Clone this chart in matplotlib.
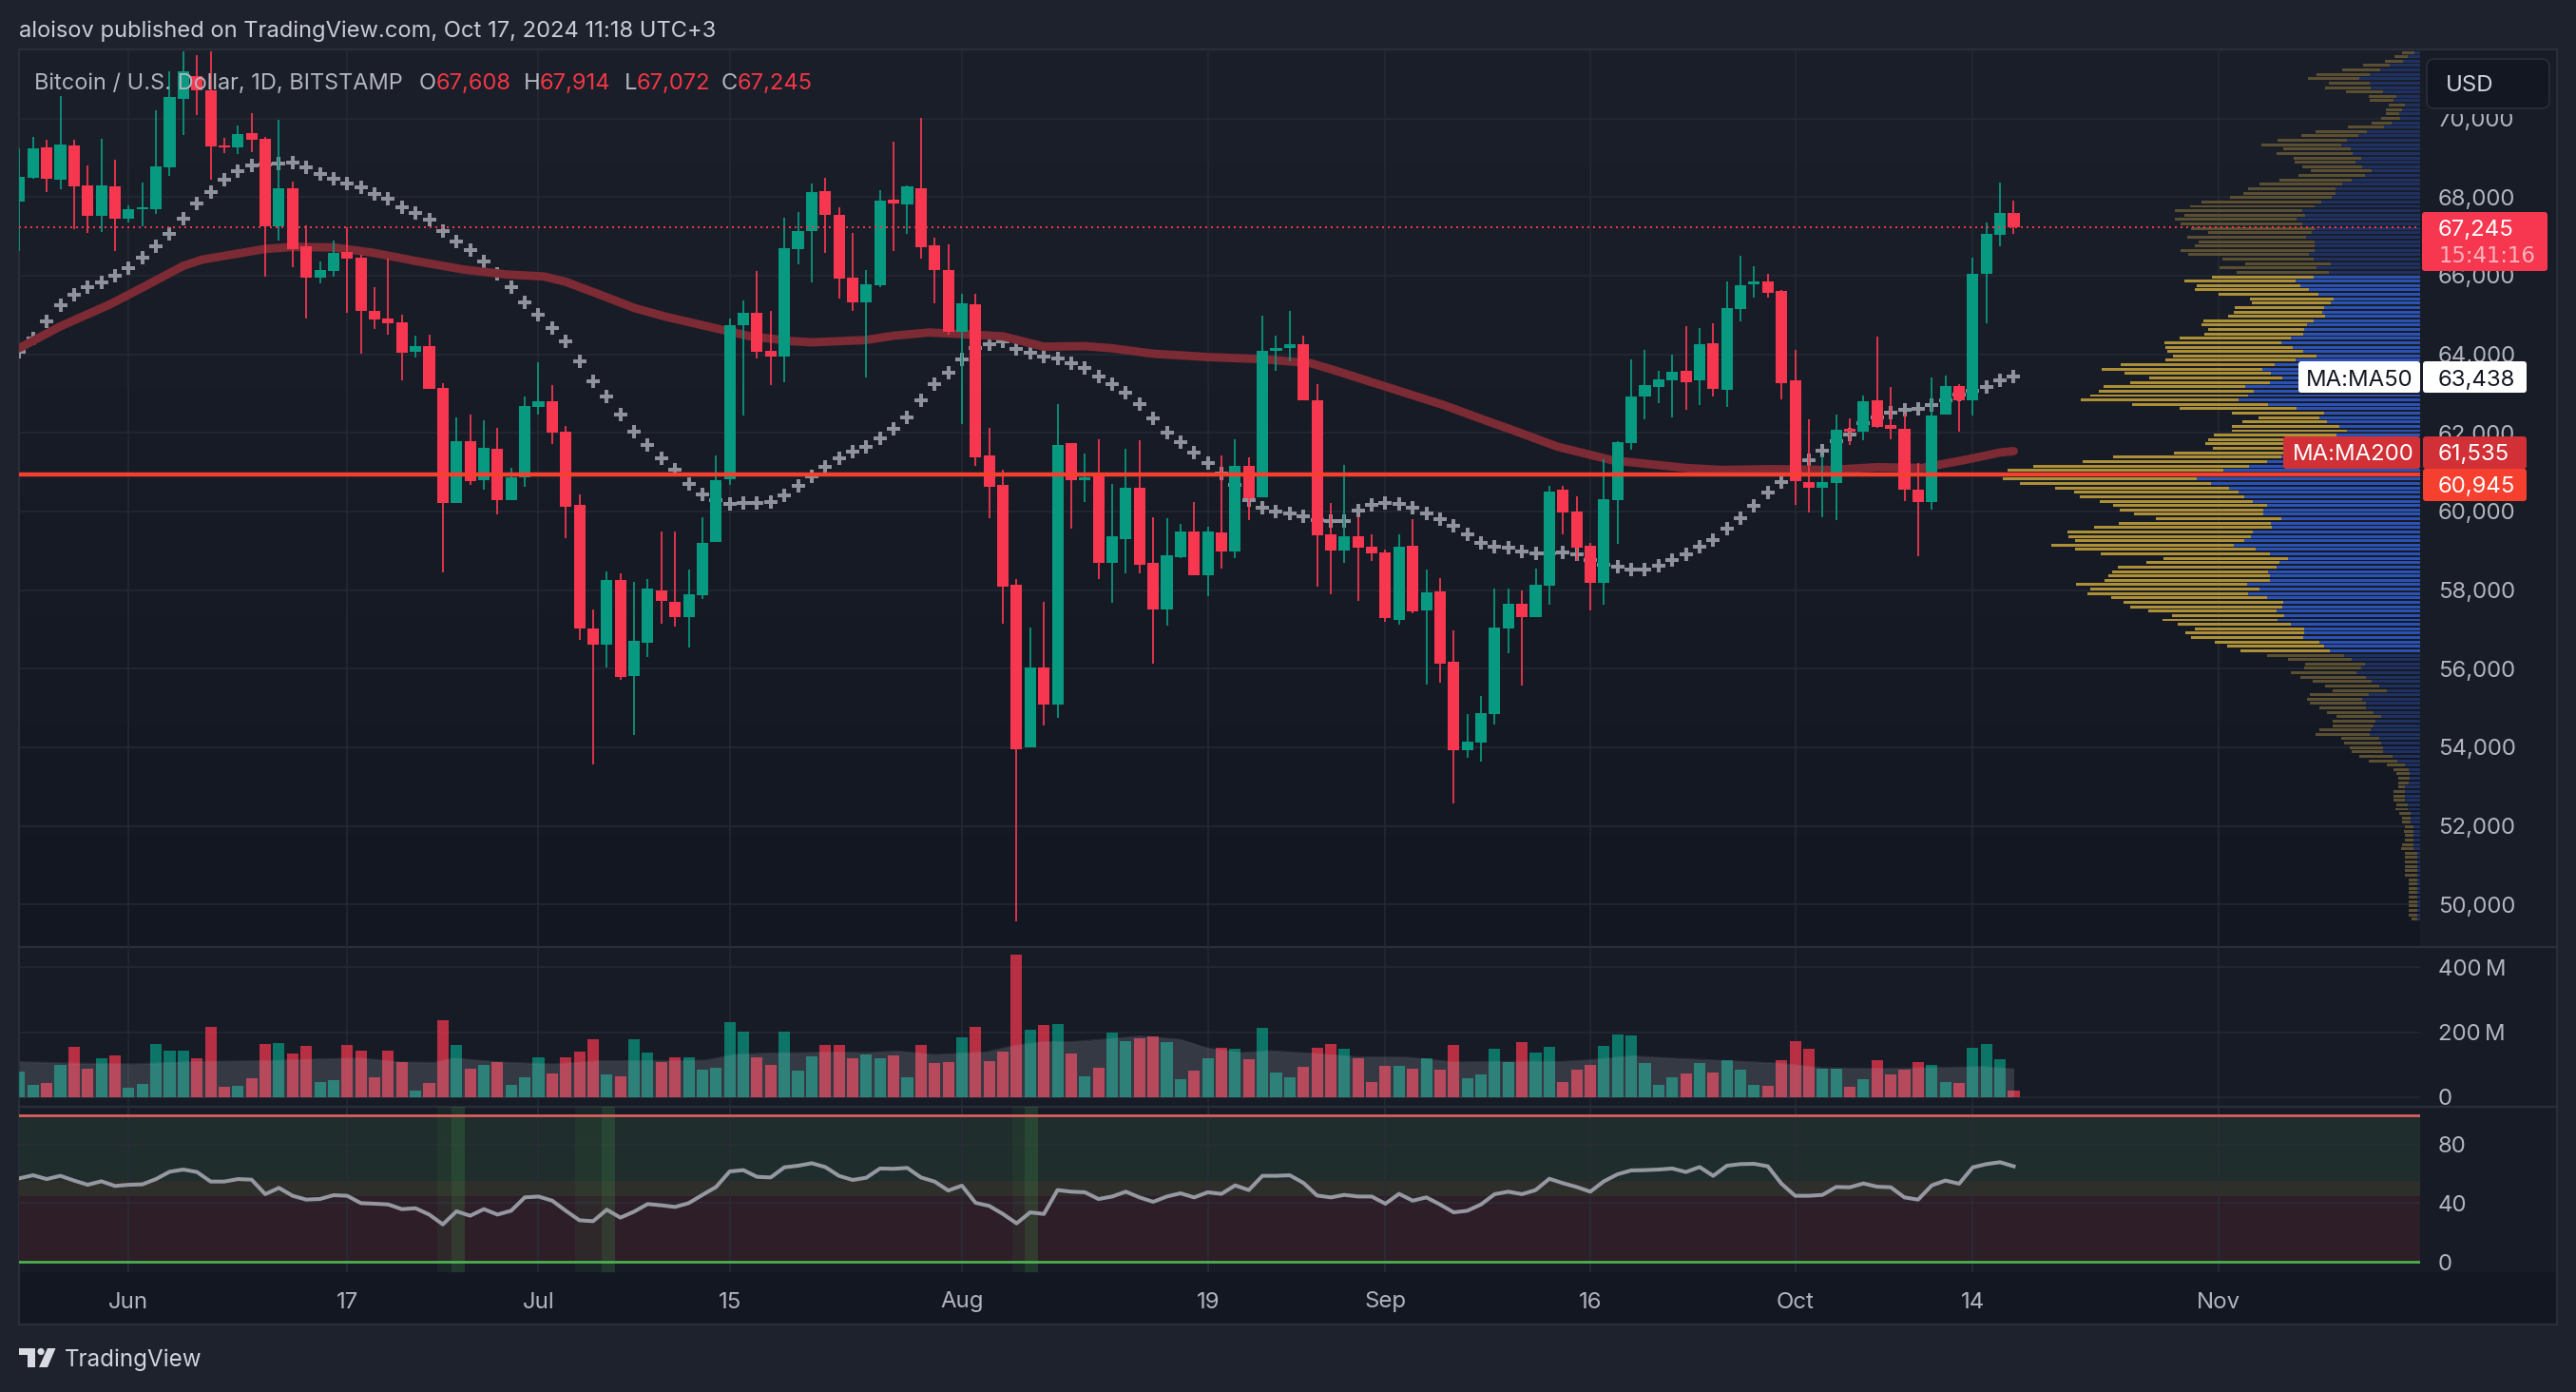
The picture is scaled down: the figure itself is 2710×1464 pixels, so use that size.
import numpy as np
import matplotlib
matplotlib.use("Agg")
import matplotlib.pyplot as plt
from matplotlib.patches import Rectangle, FancyBboxPatch, Polygon, Circle

plt.rcParams['font.family'] = ['Inter', 'DejaVu Sans']

# ---------- data (daily candles, index 0 = 24 May 2024) ----------
opens = [67877,68493,69268,68431,69318,68308,67532,68283,67446,67692,67692,68751,70500,71080,70722,69318,69268,69626,69478,67261,
         68222,66744,65956,66128,66596,66461,65106,64921,64823,64060,64220,63136,60217,61781,60808,61584,60278,60870,62655,62815,
         62027,60168,57027,56621,58259,55820,56670,58000,57694,57305,57861,59222,60819,64736,65055,64083,63930,66680,67139,68153,
         67542,65944,65333,65750,67944,67806,68236,66764,66139,64583,65278,61416,60666,58124,54000,56041,55097,61736,60805,60930,
         58680,59305,60596,58680,57513,58847,59486,58388,59458,58972,61152,60360,64083,64153,64250,62819,59429,59014,59370,59103,
         58955,57238,59123,57485,57968,56173,53933,54120,54850,57021,57653,57317,58106,60553,59991,59133,58185,60287,61737,62921,
         63158,63336,63573,63336,64273,63099,65151,65773,65862,65605,63336,60741,60613,60731,62103,62034,62823,62191,62103,60563,
         60238,62477,63188,62823,66039,67040,67608]
closes = [68505,69231,68456,69342,68283,67532,68308,67446,67692,67741,68776,70537,71200,70722,69280,69268,69600,69465,67261,68222,
          66682,65956,66140,66584,66436,65106,64897,64798,64035,64220,63111,60217,61781,60771,61609,60278,60870,62680,62815,62003,
          60118,57027,56621,58259,55784,56707,58037,57717,57305,57888,59194,60791,64750,65055,64069,63944,66694,67139,68139,67542,
          65917,65333,65792,67903,67847,68278,66736,66139,64583,65291,61389,60638,58097,53957,56041,55097,61680,60805,60860,58680,
          59360,60610,58652,57513,58874,59486,58388,59486,58972,61152,60333,64083,64153,64250,62819,59388,59014,59370,59083,58935,
          57297,59113,57455,57939,56123,53933,54140,54870,57041,57653,57317,58136,60514,59971,59083,58185,60307,61757,62921,63208,
          63356,63553,63287,64254,63119,65171,65763,65862,65566,63257,60771,60613,60741,62073,62034,62803,62162,62103,60553,60238,
          62438,63188,62823,66059,67056,67608,67245]
highs = [69231,69539,69465,70562,69465,68813,69490,68960,67790,68369,70217,71200,71700,71608,71700,69515,69823,70130,69527,69970,
         68406,67273,66374,66892,67236,66522,65697,66424,64995,64478,64490,63271,62384,62458,62310,62138,61104,62914,63788,63209,
         62187,60426,57507,58468,58431,58210,58283,59478,59499,58527,59847,61416,64916,65375,66111,65097,67472,67611,68347,68486,
         67736,67097,66139,68180,69417,68305,70014,66972,66805,65541,65528,62138,61055,58277,57041,57694,62722,61736,61472,61847,
         60694,61583,61805,59847,59819,59694,60250,59611,61416,61833,61389,64972,64486,65097,64486,63236,60218,61175,59873,59409,
         59034,59409,59804,58521,58294,56962,54840,55304,58047,58028,57978,58541,60662,60642,60386,59211,61323,61777,63869,64106,
         63573,63987,64707,64658,64786,65842,66503,66237,66059,65625,64106,62339,61432,62458,62369,62941,64441,63158,62487,61224,
         63405,63454,63247,66464,67350,68375,67914]
lows = [66620,68468,68123,68197,67175,67076,67101,66621,67360,67261,67581,68530,69590,70093,68431,69120,69096,69133,65980,66904,
        66227,64921,65808,65980,65044,64022,64650,64503,63345,63912,63111,58456,60217,60672,60549,59921,60278,60623,62458,61720,
        59330,56732,53567,56030,55722,54306,56301,57138,57069,56541,57777,59222,60666,62444,63889,63222,63277,66278,65819,66569,
        65430,65111,63416,65708,66625,67069,66444,65305,64500,62222,61152,59819,57138,49568,53985,54541,54735,59555,60250,58291,
        57666,58430,58430,56124,57097,58805,58388,57833,58555,58805,59777,60360,63569,63833,62819,58083,57899,58698,57722,58738,
        57199,57120,57416,55600,55640,52561,53735,53636,54584,56390,55561,57317,57623,59429,58738,57475,57633,59182,61580,62339,
        62764,62389,62596,62704,62922,62665,64836,65438,65447,62862,60169,59971,59863,59784,61698,61816,62132,61836,60257,58857,
        60050,62468,62024,62438,64786,66750,67072]

ma50 = [64071,64404,64847,65254,65525,65697,65833,66005,66190,66461,66744,67052,67446,67840,68123,68443,68665,68800,68837,68862,
        68874,68751,68579,68456,68345,68259,68086,67963,67741,67606,67434,67138,66867,66645,66362,66054,65697,65328,64995,64675,
        64318,63825,63308,62914,62458,62040,61695,61362,61055,60694,60444,60300,60194,60208,60208,60236,60416,60652,60888,61124,
        61347,61527,61652,61861,62097,62402,62819,63250,63541,63875,64152,64264,64333,64125,64027,63930,63889,63764,63653,63444,
        63250,63027,62736,62375,62014,61764,61500,61236,60958,60680,60291,60097,60000,59958,59888,59777,59755,59755,60020,60159,
        60218,60198,60100,59951,59803,59636,59409,59192,59113,59074,58985,58935,58935,58955,58915,58758,58640,58590,58521,58521,
        58620,58768,58915,59103,59270,59557,59823,60149,60475,60751,61007,61303,61550,61777,61965,62240,62389,62507,62586,62606,
        62714,62833,62980,63080,63178,63326,63438]

ma200_x = [0,3,6.6,9,12,13.4,18,20,23,25.9,29,32.6,35.7,38.4,40,43,45,47.3,50.4,53.5,56.6,58,61.9,64,66.6,69,72,75,78,80,83,87,91,
           94.5,96.2,99.3,104.3,107.3,109.3,112.6,116.6,119.3,122,124.6,128.3,132.6,136,139.3,142.6,145,146]
ma200_y = [64158,64712,65266,65697,66251,66411,66682,66732,66719,66584,66374,66153,66030,65980,65845,65451,65180,64958,64708,64458,
           64333,64305,64361,64472,64555,64514,64458,64194,64208,64153,64014,63930,63875,63777,63600,63257,62704,62320,62073,61649,
           61303,61205,61106,61057,61076,61057,61126,61106,61323,61500,61535]

volumes = [79,37,43,99,155,87,119,127,28,40,164,143,143,120,217,31,34,58,164,167,134,158,46,52,161,143,61,143,108,20,43,237,161,87,99,
           108,37,61,122,73,122,140,178,70,64,178,137,108,122,122,84,90,231,202,122,99,202,81,125,161,161,120,131,120,128,61,161,105,
           109,184,217,111,139,438,208,221,224,134,64,90,199,172,181,187,170,55,81,120,152,148,117,214,75,61,93,152,164,149,120,46,96,
           96,87,120,84,161,58,70,149,109,170,138,155,46,84,99,158,193,190,105,37,61,73,105,75,114,84,37,34,114,172,149,87,87,31,55,
           114,70,84,108,99,46,43,152,164,117,20]
vol_ma_x = [0,3.5,8.3,13.2,18.1,23,25,27.9,30.3,31.8,35.2,39.1,42.5,47.4,50.3,52.3,54.7,57.2,59.6,62,64.3,66.9,68.4,70.8,72.8,75,
            77,79,82,85,87,89.4,91.6,95,98,101.6,105,108.7,113,115,118,121,125,128.7,132,135.9,139.4,143.7,146]
vol_ma_y = [108,104,101,109,111,118,119,107,106,119,107,101,111,111,113,130,135,136,138,136,141,130,133,138,158,170,
            170,176,187,177,150,136,142,133,123,122,107,109,109,114,126,119,111,104,89,87,89,93,86]

rsi = [56.9,59.0,56.4,58.6,55.4,52.5,54.9,51.7,52.5,52.8,56.4,61.4,62.9,61.2,54.7,54.7,56.4,56.0,46.1,50.4,45.0,42.4,42.8,45.4,45.0,
       40.0,39.6,39.1,35.9,36.5,32.2,25.5,34.4,31.4,35.9,32.2,34.8,43.9,44.5,41.7,34.8,28.3,27.7,35.5,30.1,34.2,39.4,38.5,37.4,40.0,
       45.6,51.0,61.6,62.5,57.9,57.5,64.4,65.5,67.2,64.6,58.6,55.8,57.3,63.6,63.4,64.0,57.5,54.7,48.6,51.9,40.2,38.1,32.6,26.2,33.7,32.6,
       48.9,47.8,47.4,42.8,44.5,47.8,43.9,40.9,44.5,46.7,43.9,47.4,46.3,52.1,48.9,58.6,58.6,59.0,53.8,45.2,43.9,45.6,44.5,44.5,39.6,46.3,
       41.7,43.9,39.1,33.7,34.8,39.1,46.1,47.8,46.1,48.9,56.6,53.6,51.0,47.8,54.9,59.7,62.3,62.5,62.9,63.6,61.2,64.6,58.6,65.5,66.6,66.8,
       65.1,53.2,45.0,45.0,45.6,51.0,50.8,53.4,51.2,50.8,43.9,42.4,52.1,55.4,53.2,64.4,66.6,67.9,65.1]
rsi_dim_spans = [(30.6,31.6),(40.7,42.6),(72.7,73.6)]
rsi_bright_spans = [(31.6,32.6),(42.6,43.6),(73.6,74.6)]

# volume profile rows, top to bottom: up volume and total volume
profile_up = [18,38,53,96,126,158,193,160,156,116,74,84,48,58,66,62,90,113,168,195,230,250,218,213,186,203,183,153,173,215,246,266,267,
              278,312,333,371,362,390,371,333,341,360,333,333,333,350,336,282,327,288,336,393,378,351,321,273,282,303,309,300,336,357,
              366,369,408,438,402,369,328,392,459,498,471,435,474,552,525,543,573,480,390,303,318,294,255,231,264,288,318,378,408,438,
              483,540,621,705,705,660,603,573,555,528,483,495,495,438,471,468,528,534,555,588,519,474,417,444,453,480,474,474,546,507,
              543,483,432,435,453,429,450,408,366,366,369,318,303,285,240,216,174,186,201,171,153,129,105,162,183,171,171,147,123,141,
              147,156,159,129,123,117,117,87,72,48,36,33,33,36,48,48,48,48,39,39,30,30,30,21,21,21,21,21,21,9,9,9,9,9,9,9,9,9,9,9,9,9,9,9,9]
profile_total = [58,81,110,180,246,327,354,288,300,234,162,160,98,108,108,122,153,228,330,375,450,501,432,453,398,396,372,345,384,444,
                 507,543,558,600,690,726,774,745,774,756,723,669,735,698,711,756,732,624,552,633,579,657,744,705,711,636,537,531,585,588,
                 606,684,690,669,681,759,807,804,798,780,804,945,1005,933,855,915,999,1014,1041,1071,909,759,594,510,561,594,594,651,669,
                 678,654,777,969,1065,1221,1302,1467,1318,1263,1152,1092,1074,1011,969,948,903,834,951,1029,1113,1110,1089,1164,1089,1008,
                 810,864,954,972,984,996,1086,1041,1050,975,936,915,858,783,813,765,711,741,723,648,609,567,483,417,363,366,408,378,339,300,
                 276,348,357,348,318,294,264,276,276,318,330,249,240,222,216,192,162,105,84,75,69,69,69,84,84,84,75,78,66,57,57,48,51,48,48,
                 57,60,48,48,48,48,48,48,36,36,36,36,36,36,36,36,36,27]
profile_top_price = 71685
profile_bottom_price = 49624
value_area_rows = (51, 137)

price_ticks = [50000,52000,54000,56000,58000,60000,62000,64000,66000,68000,70000]
volume_ticks = [0,200,400]
volume_tick_labels = ['0','200\u2009M','400\u2009M']
rsi_ticks = [0,40,80]
time_ticks = [8,24,38,52,69,87,100,115,130,143,161]
time_labels = ['Jun','17','Jul','15','Aug','19','Sep','16','Oct','14','Nov']
support_level = 60945
last_price = 67245

assert len(opens)==len(closes)==len(highs)==len(lows)==len(ma50)==len(volumes)==len(rsi)==147
assert len(profile_up)==len(profile_total)
assert len(ma200_x)==len(ma200_y) and len(vol_ma_x)==len(vol_ma_y)

# ---------- style ----------
W, H = 2710, 1464
OUTER = '#1e222d'; GRID = '#252934'; BORDER = '#2a2e39'; TXT = '#b2b5be'
GREEN = '#089981'; RED = '#f7374f'
PX = 0.72
FS = 24*PX

fig = plt.figure(figsize=(W/100, H/100), dpi=100, facecolor=OUTER)
def rect(x0, y0, x1, y1):
    return [x0/W, 1-y1/H, (x1-x0)/W, (y1-y0)/H]

L, R = 20, 2546
PT, PB, VB, RB, TB = 53, 995.7, 1163.7, 1338, 1393
XLIM = (-0.028, 175.75)

# background layer
bg = fig.add_axes([0,0,1,1], zorder=0); bg.set_xlim(0,W); bg.set_ylim(H,0); bg.axis('off')
g = np.linspace(0,1,256)[:,None,None]
grad = g*(np.array([0x13,0x17,0x22])/255) + (1-g)*(np.array([0x1b,0x1f,0x2a])/255)
bg.imshow(grad, extent=[L,R,PB,PT], aspect='auto', zorder=1)
bg.set_xlim(0,W); bg.set_ylim(H,0)
bg.add_patch(Rectangle((R,PT),2690-R,PB-PT,fc='#181c27',ec='none',zorder=1))
bg.add_patch(Rectangle((L,PB),2690-L,VB-PB,fc='#171b26',ec='none',zorder=1))
bg.add_patch(Rectangle((L,VB),2690-L,RB-VB,fc='#171b26',ec='none',zorder=1))
bg.add_patch(Rectangle((L,RB),2690-L,TB-RB,fc='#131722',ec='none',zorder=1))
for y in (52, PB, VB, TB):
    bg.plot([L,2690],[y,y],color=BORDER,lw=1.6,zorder=2)
for x in (L,2690):
    bg.plot([x,x],[52,TB],color=BORDER,lw=1.4,zorder=2)

def style(ax):
    ax.set_facecolor('none')
    for s in ax.spines.values(): s.set_visible(False)
    ax.set_xlim(*XLIM)
    ax.set_axisbelow(True)
    ax.grid(True, color=GRID, lw=1.1)
    ax.set_xticks(time_ticks)
    ax.yaxis.tick_right()
    ax.tick_params(axis='y', length=0, pad=19*PX, labelsize=FS, labelcolor=TXT)
    ax.tick_params(axis='x', length=0, labelbottom=False)

idx = np.arange(len(opens))
o, c, h, l = map(np.array, (opens, closes, highs, lows))
up = c >= o
cols = np.where(up, GREEN, RED)

# ---------- price pane ----------
ax = fig.add_axes(rect(L,PT,R,PB), zorder=2); style(ax)
ax.set_ylim(48922, 71734)
ax.set_yticks(price_ticks); ax.set_yticklabels([f'{t:,}' for t in price_ticks])
ax.plot(idx, ma50, ls='none', marker='P', ms=10, mew=0, color='#8f919b', zorder=2)
ax.plot(ma200_x, ma200_y, color='#7c2a33', lw=6.4, solid_capstyle='round', solid_joinstyle='round', zorder=2.5)
ax.vlines(idx, l, h, colors=cols, lw=1.25, zorder=3)
ax.bar(idx, np.abs(c-o), bottom=np.minimum(o,c), width=0.84, color=cols, lw=0, zorder=4)

vp = ax.twiny()
vp.set_facecolor('none')
for s in vp.spines.values(): s.set_visible(False)
vp.set_xlim((R-L)*3, 0); vp.set_xticks([]); vp.tick_params(length=0)
rows = np.linspace(profile_top_price, profile_bottom_price, len(profile_up))
pu, pt = np.array(profile_up), np.array(profile_total)
bright = np.zeros(len(rows), bool); bright[value_area_rows[0]:value_area_rows[1]] = True
vp.barh(rows, pu, height=72, color=np.where(bright,'#2b52b3','#1f3160'), lw=0, zorder=2)
vp.barh(rows, pt-pu, left=pu, height=72, color=np.where(bright,'#ad8f36','#5b4f32'), lw=0, zorder=2)
vp.axhline(support_level, color='#f5402f', lw=3.2, zorder=5)
vp.axhline(last_price, color='#f23645', lw=1.44, ls=(0,(1,2)), zorder=4)

# ---------- volume pane ----------
av = fig.add_axes(rect(L,PB,R,VB), zorder=2); style(av)
av.set_ylim(-29.4, 463.8)
av.set_yticks(volume_ticks); av.set_yticklabels(volume_tick_labels)
av.bar(idx, volumes, width=0.84, color=cols, alpha=0.72, lw=0, zorder=3)
av.fill_between(vol_ma_x, 0, vol_ma_y, color='#b2b5be', alpha=0.2, lw=0, zorder=4)
av.plot(vol_ma_x, vol_ma_y, color='#b2b5be', alpha=0.12, lw=1.4, zorder=4)

# ---------- RSI pane ----------
ar = fig.add_axes(rect(L,VB,R,RB), zorder=2); style(ar)
ar.set_ylim(-7.1, 105.9)
ar.set_yticks(rsi_ticks); ar.set_yticklabels([str(t) for t in rsi_ticks])
ar.axhspan(55,100,color='#1f2d2c',lw=0,zorder=0.5)
ar.axhspan(45,55,color='#2e2e2b',lw=0,zorder=0.5)
ar.axhspan(0,45,color='#2d1e28',lw=0,zorder=0.5)
ar.grid(True, color='#2a2e37', lw=1.1)
for a,b in rsi_dim_spans:
    ar.axvspan(a,b,color='#4caf50',alpha=0.07,lw=0,zorder=1.5)
for a,b in rsi_bright_spans:
    ar.axvspan(a,b,color='#4caf50',alpha=0.2,lw=0,zorder=1.5)
ar.axhline(100,color='#d9605e',lw=2.0,zorder=2)
ar.axhline(0,color='#4caf50',lw=2.0,zorder=2)
ar.plot(idx,rsi,color='#9598a1',lw=2.9,solid_joinstyle='round',zorder=3)
ar.set_xticks(time_ticks); ar.set_xticklabels(time_labels)
ar.tick_params(axis='x', labelbottom=True, length=0, pad=20.5*PX, labelsize=FS, labelcolor=TXT)

# ---------- overlay labels, in pixel space ----------
ov = fig.add_axes([0,0,1,1], zorder=10); ov.set_xlim(0,W); ov.set_ylim(H,0); ov.axis('off'); ov.set_facecolor('none')
def box(x0,y0,x1,y1,fc,r=3,ec='none'):
    ov.add_patch(FancyBboxPatch((x0+r,y0+r),x1-x0-2*r,y1-y0-2*r,boxstyle=f'round,pad={r},rounding_size={r}',fc=fc,ec=ec,lw=1.2))
def txt(x,y,s,color=TXT,size=FS,ha='left',**k):
    ov.text(x,y,s,color=color,fontsize=size,ha=ha,va='center_baseline',**k)

ov.add_patch(Rectangle((2548,54),140,66,fc='#181c27',ec='none'))
box(2553,62,2682,114,'#131722',r=8,ec=BORDER)
txt(2573,87,'USD',color='#d1d4dc')

box(2548,223,2680,285,'#f7374f',r=3)
txt(2565,239,'67,245',color='white')
txt(2566,267,'15:41:16',color='#fbb4bd',size=22.7*PX,family='DejaVu Sans')
box(2418,380,2546,413,'white'); box(2549,380,2658,413,'white')
txt(2426,397,'MA:MA50',color='#131722'); txt(2565,397,'63,438',color='#131722')
box(2402,459,2546,493,'#d03036'); box(2549,459,2658,493,'#d03036')
txt(2412,476,'MA:MA200',color='white'); txt(2565,476,'61,535',color='white')
box(2549,493,2658,527,'#f5402f')
txt(2565,510,'60,945',color='white')

SMALL = 23.7*PX
txt(20,30,'aloisov published on TradingView.com, Oct 17, 2024 11:18 UTC+3',color='#c9ccd4',size=SMALL)
txt(36,85,'Bitcoin / U.S. Dollar, 1D, BITSTAMP',size=23.5*PX)
for x,s in ((441,'O'),(551,'H'),(657,'L'),(759,'C')):
    txt(x,85,s,size=SMALL)
for x,s in ((459,'67,608'),(568,'67,914'),(670,'67,072'),(776,'67,245')):
    txt(x,85,s,color='#f23645',size=SMALL)

# TradingView logo
LOGO = '#d9dbe2'
ov.add_patch(Polygon([(20,1418),(37,1418),(37,1438),(29,1438),(29,1425),(20,1425)],fc=LOGO,ec='none'))
ov.add_patch(Circle((43,1421.5),3.6,fc=LOGO,ec='none'))
ov.add_patch(Polygon([(50,1418),(58.5,1418),(50,1438),(41,1438)],fc=LOGO,ec='none'))
txt(68,1428,'TradingView',color='#d1d4dc',size=24.2*PX)

fig.savefig('out.png', dpi=100, facecolor=OUTER)
